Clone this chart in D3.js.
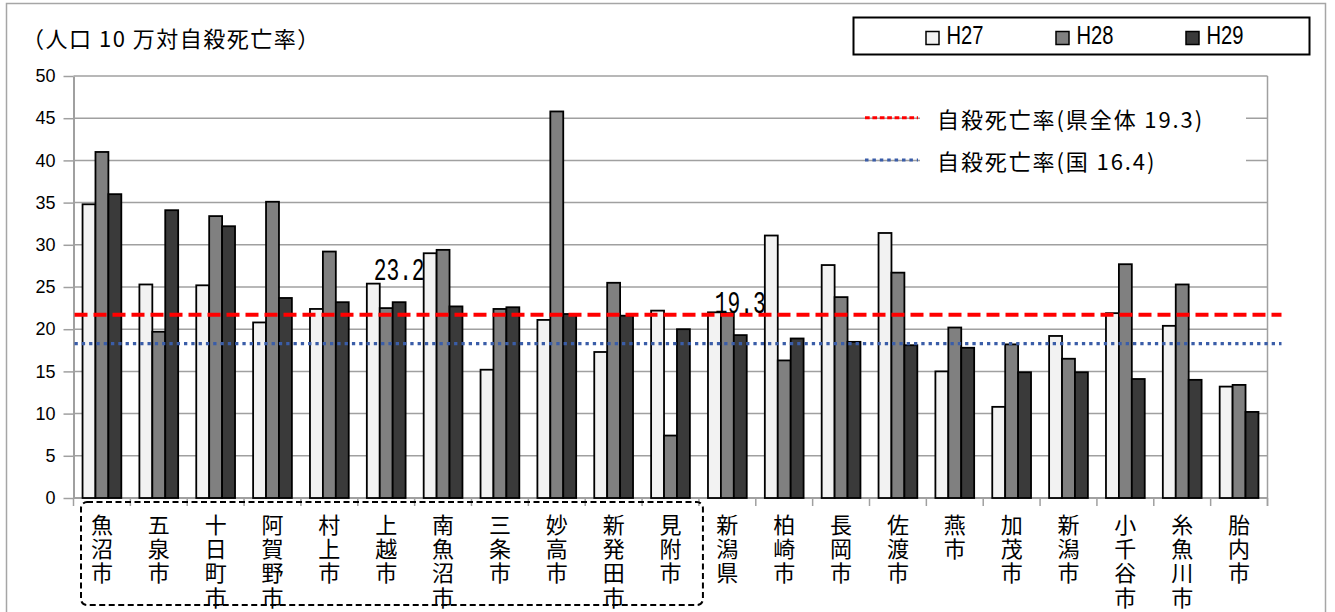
<!DOCTYPE html>
<html lang="ja">
<head>
<meta charset="utf-8">
<title>自殺死亡率 市町村別推移</title>
<script src="https://cdn.jsdelivr.net/npm/d3@7"></script>
<style>
  html, body { margin: 0; padding: 0; background: #ffffff; }
  svg { display: block; }
</style>
</head>
<body>
<svg id="chart" width="1335" height="612"></svg>
<script>
// ---- data -------------------------------------------------------------
const categories = ["魚沼市", "五泉市", "十日町市", "阿賀野市", "村上市", "上越市",
  "南魚沼市", "三条市", "妙高市", "新発田市", "見附市", "新潟県", "柏崎市", "長岡市",
  "佐渡市", "燕市", "加茂市", "新潟市", "小千谷市", "糸魚川市", "胎内市"];

const seriesNames = ["H27", "H28", "H29"];

const valuesH27 = [34.8, 25.3, 25.2, 20.8, 22.4, 25.4, 29.0, 15.2, 21.1, 17.3, 22.2,
  22.0, 31.1, 27.6, 31.4, 15.0, 10.8, 19.2, 21.9, 20.4, 13.2];
const valuesH28 = [41.0, 19.7, 33.4, 35.1, 29.2, 22.5, 29.4, 22.4, 45.8, 25.5, 7.4,
  21.9, 16.3, 23.8, 26.7, 20.2, 18.2, 16.5, 27.7, 25.3, 13.4];
const valuesH29 = [36.0, 34.1, 32.2, 23.7, 23.2, 23.2, 22.7, 22.6, 21.8, 21.6, 20.0,
  19.3, 18.9, 18.5, 18.1, 17.8, 14.9, 14.9, 14.1, 14.0, 10.2];

const seriesFill = ["#f2f2f2", "#808080", "#3a3a3a"];

const yTicks = [0, 5, 10, 15, 20, 25, 30, 35, 40, 45, 50];

// reference lines: names as printed, levels at which they run
const refNames = ["自殺死亡率(県全体 19.3)", "自殺死亡率(国 16.4)"];
const refLevels = [21.7, 18.3];

// value labels: [category, series]
const labeledBars = [["上越市", "H29"], ["新潟県", "H29"]];

// first block of municipalities enclosed by the dashed frame
const framedFirst = "魚沼市";
const framedLast = "見附市";

const yTitle = "（人口 10 万対自殺死亡率）";

// ---- layout -----------------------------------------------------------
const svg = d3.select("#chart");
const plot = { left: 73.5, right: 1267.5, top: 76, bottom: 498 };
const cjk = "'Noto Sans CJK JP', 'Noto Sans', sans-serif";
const latin = "'Liberation Sans', Arial, sans-serif";

const x = d3.scaleBand().domain(categories).range([plot.left, plot.right]).padding(0);
const xs = d3.scaleBand().domain(seriesNames).range([0, x.bandwidth()])
  .paddingInner(0).paddingOuter(0.7);
const y = d3.scaleLinear().domain([0, 50]).range([plot.bottom, plot.top]);

const seriesValues = { H27: valuesH27, H28: valuesH28, H29: valuesH29 };

// white backdrop and outer chart frame
svg.append("rect").attr("width", 1335).attr("height", 612).attr("fill", "#ffffff");
svg.append("rect")
  .attr("x", 6.5).attr("y", 3.5).attr("width", 1319).attr("height", 640)
  .attr("fill", "none").attr("stroke", "#a6a6a6").attr("stroke-width", 1.5);

// horizontal gridlines
svg.append("g").selectAll("line")
  .data(yTicks.filter(t => t > 0))
  .join("line")
  .attr("x1", plot.left).attr("x2", plot.right)
  .attr("y1", d => y(d)).attr("y2", d => y(d))
  .attr("stroke", "#a0a0a0").attr("stroke-width", 1.5);

// right border of the plot area
svg.append("line")
  .attr("x1", plot.right).attr("x2", plot.right)
  .attr("y1", plot.top).attr("y2", plot.bottom + 8)
  .attr("stroke", "#a0a0a0").attr("stroke-width", 1.5);

// y axis
const yAxis = svg.append("g")
  .attr("transform", `translate(${plot.left},0)`)
  .call(d3.axisLeft(y).tickValues(yTicks).tickSize(10).tickSizeOuter(0).tickPadding(8)
    .tickFormat(d3.format("d")));
yAxis.select(".domain").attr("stroke", "#a0a0a0").attr("stroke-width", 2);
yAxis.selectAll(".tick line").attr("stroke", "#a0a0a0").attr("stroke-width", 1.5);
yAxis.selectAll(".tick text")
  .attr("fill", "#000").style("font-family", latin).style("font-size", "18px");

// x axis baseline and category separators
svg.append("line")
  .attr("x1", plot.left).attr("x2", plot.right)
  .attr("y1", plot.bottom).attr("y2", plot.bottom)
  .attr("stroke", "#a0a0a0").attr("stroke-width", 2);
const boundaries = categories.map(c => x(c)).concat([plot.right]);
svg.append("g").selectAll("line")
  .data(boundaries)
  .join("line")
  .attr("x1", d => d).attr("x2", d => d)
  .attr("y1", plot.bottom).attr("y2", plot.bottom + 8)
  .attr("stroke", "#a0a0a0").attr("stroke-width", 1.5);

// bars
const groups = svg.append("g").selectAll("g")
  .data(categories)
  .join("g")
  .attr("transform", d => `translate(${x(d)},0)`);
groups.selectAll("rect")
  .data((c, i) => seriesNames.map((s, k) => ({ s, k, v: seriesValues[s][i] })))
  .join("rect")
  .attr("x", d => xs(d.s))
  .attr("width", xs.bandwidth())
  .attr("y", d => y(d.v))
  .attr("height", d => y(0) - y(d.v))
  .attr("fill", d => seriesFill[d.k])
  .attr("stroke", "#000").attr("stroke-width", 1.8);

// reference lines
const refStyles = [
  { color: "#ff0000", width: 4, dash: "13 6", sampleWidth: 3, sampleDash: "4.7 2.7" },
  { color: "#3a5da8", width: 3.3, dash: "3.3 4", sampleWidth: 3, sampleDash: "3.5 3.9" }
];
svg.append("g").selectAll("line")
  .data(refLevels)
  .join("line")
  .attr("x1", plot.left + 1).attr("x2", plot.right + 14)
  .attr("y1", d => y(d)).attr("y2", d => y(d))
  .attr("stroke", (d, i) => refStyles[i].color)
  .attr("stroke-width", (d, i) => refStyles[i].width)
  .attr("stroke-dasharray", (d, i) => refStyles[i].dash);

// value labels above bars
svg.append("g").selectAll("text")
  .data(labeledBars)
  .join("text")
  .attr("x", d => x(d[0]) + xs(d[1]) + xs.bandwidth() / 2)
  .attr("y", d => y(seriesValues[d[1]][categories.indexOf(d[0])]) - 22)
  .attr("text-anchor", "middle")
  .attr("textLength", 51).attr("lengthAdjust", "spacingAndGlyphs")
  .style("font-family", "'Liberation Mono', 'DejaVu Sans Mono', monospace")
  .style("font-size", "31px")
  .attr("fill", "#000")
  .text(d => d3.format(".1f")(seriesValues[d[1]][categories.indexOf(d[0])]));

// category labels, set vertically (top to bottom)
svg.append("g").selectAll("text")
  .data(categories)
  .join("text")
  .attr("x", c => x(c) + x.bandwidth() / 2)
  .attr("y", 513.5)
  .style("writing-mode", "vertical-rl")
  .style("text-orientation", "upright")
  .style("font-family", cjk).style("font-size", "22px")
  .style("letter-spacing", "2.3px")
  .attr("fill", "#000")
  .text(c => c);

// dashed frame around the first block of municipalities
const frameLeft = x(framedFirst) + 7.5;
const frameRight = x(framedLast) + x.bandwidth() + 4;
svg.append("rect")
  .attr("x", frameLeft).attr("y", 502)
  .attr("width", frameRight - frameLeft).attr("height", 103)
  .attr("rx", 6).attr("ry", 6)
  .attr("fill", "none").attr("stroke", "#000").attr("stroke-width", 2)
  .attr("stroke-dasharray", "6 3.5");

// y-axis unit title
svg.append("text")
  .attr("x", 22).attr("y", 37)
  .attr("dominant-baseline", "central")
  .style("font-family", cjk).style("font-size", "22px")
  .style("letter-spacing", "1.5px")
  .attr("fill", "#000")
  .text(yTitle);

// series legend
const legend = svg.append("g");
legend.append("rect")
  .attr("x", 853.5).attr("y", 17.5).attr("width", 456).attr("height", 37)
  .attr("fill", "#ffffff").attr("stroke", "#000").attr("stroke-width", 2);
const legItems = legend.selectAll("g")
  .data(seriesNames)
  .join("g")
  .attr("transform", (d, i) => `translate(${926 + i * 130},0)`);
legItems.append("rect")
  .attr("x", 0).attr("y", 31.5).attr("width", 13).attr("height", 13)
  .attr("fill", (d, i) => seriesFill[i]).attr("stroke", "#000").attr("stroke-width", 1.5);
legItems.append("text")
  .attr("x", 20.5).attr("y", 44)
  .attr("textLength", 37).attr("lengthAdjust", "spacingAndGlyphs")
  .style("font-family", latin).style("font-size", "25px")
  .attr("fill", "#000")
  .text(d => d);

// reference line legend
const refLegend = svg.append("g");
refLegend.append("rect")
  .attr("x", 920).attr("y", 98).attr("width", 326).attr("height", 80)
  .attr("fill", "#ffffff");
const refRows = refLegend.selectAll("g")
  .data(refNames)
  .join("g");
refRows.append("line")
  .attr("x1", 865).attr("x2", 918)
  .attr("y1", (d, i) => y(45) - 0.5 + i * (y(40) - y(45)))
  .attr("y2", (d, i) => y(45) - 0.5 + i * (y(40) - y(45)))
  .attr("stroke", (d, i) => refStyles[i].color)
  .attr("stroke-width", (d, i) => refStyles[i].sampleWidth)
  .attr("stroke-dasharray", (d, i) => refStyles[i].sampleDash);
refRows.append("text")
  .attr("x", 937)
  .attr("y", (d, i) => y(45) + i * (y(40) - y(45)))
  .attr("dominant-baseline", "central")
  .style("font-family", cjk).style("font-size", "22px")
  .style("letter-spacing", "1.9px")
  .attr("fill", "#000")
  .text(d => d);
</script>
</body>
</html>
